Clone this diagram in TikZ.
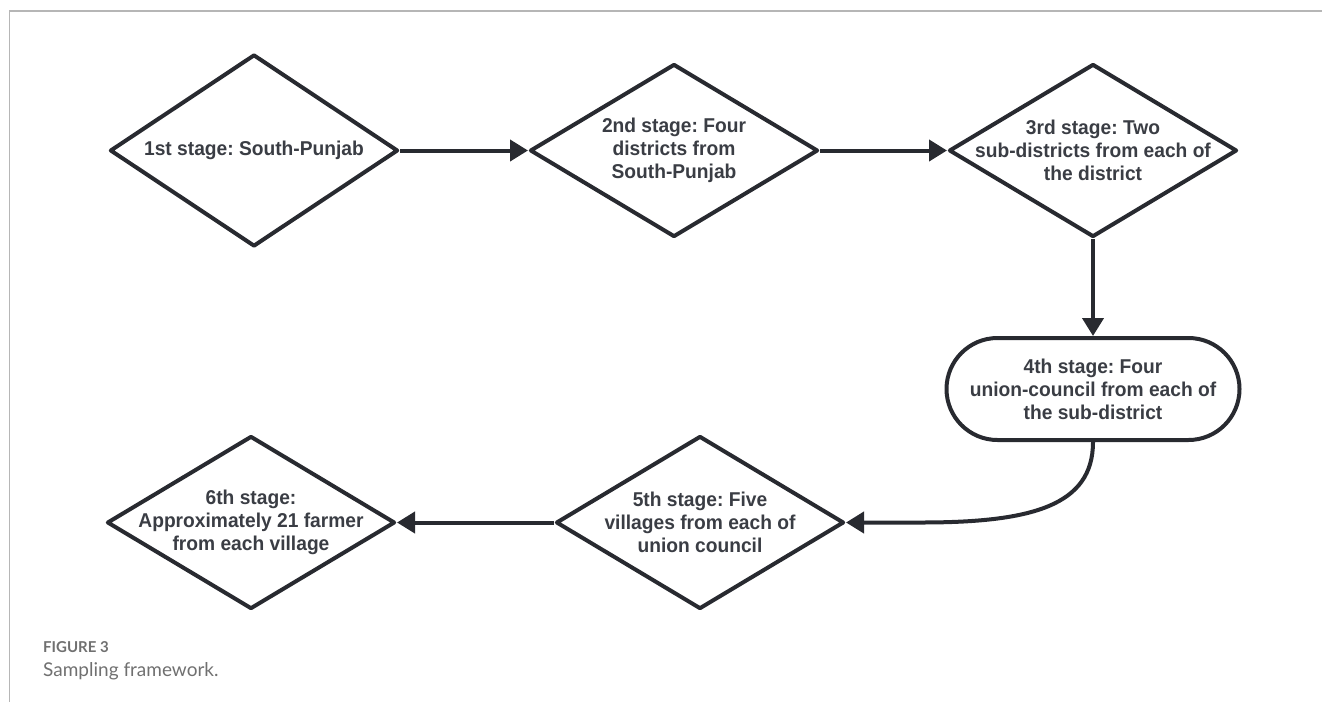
\documentclass[tikz,border=0pt]{standalone}
\usepackage{fontspec}
\setmainfont{Liberation Sans}
\newfontfamily\stagefont[FakeStretch=0.96]{Liberation Sans}
\newfontfamily\capfont{Lato}
\usepackage{tikz}
\usetikzlibrary{arrows.meta}
\usetikzlibrary{positioning}
\usetikzlibrary{shapes.geometric}
\usetikzlibrary{shapes.misc}

\definecolor{ink}{RGB}{40,42,48}
\definecolor{txtgray}{RGB}{58,61,68}
\definecolor{framegray}{RGB}{182,182,182}
\definecolor{capgray}{RGB}{112,112,112}

\frenchspacing
\begin{document}
\begin{tikzpicture}[x=1pt, y=-1pt,
    stage/.style = {diamond, draw=ink, line width=4pt, line join=round, minimum width=288pt, minimum height=173pt, inner sep=0pt},
    pill/.style = {rounded rectangle, draw=ink, line width=4pt, minimum width=293pt, minimum height=102pt, inner sep=0pt},
    stagetext/.style = {align=center, text=txtgray, inner sep=0pt, font=\stagefont\bfseries\fontsize{20}{23}\selectfont},
    flow/.style = {draw=ink, line width=4pt, -{Triangle[length=18pt, width=21pt]}},
    captext/.style = {anchor=base west, inner sep=0pt, text=capgray}]
    \useasboundingbox (0,0) rectangle (1322,702);
    \draw[framegray, line width=1.5pt] (1322,11) -- (9.5,11) -- (9.5,702);

    \node[stage, minimum height=192pt] (d1) at (254,150.5) {};
    \node[stage, right=128pt of d1] (d2) {};
    \node[stage, right=127pt of d2] (d3) {};
    \node[pill, below=97pt of d3] (st4) {};
    \node[stage] (d5) at (700,522.5) {};
    \node[stage, left=157pt of d5] (d6) {};

    \node[stagetext] (t1) at (d1) {1st stage: South-Punjab};
    \node[stagetext] (t2) at (d2) {2nd stage: Four\\districts from\\South-Punjab};
    \node[stagetext] (t3) at (d3) {3rd stage: Two\\sub-districts from each of\\the district};
    \node[stagetext] (t4) at (st4) {4th stage: Four\\union-council from each of\\the sub-district};
    \node[stagetext] (t5) at (d5) {5th stage: Five\\villages from each of\\union council};
    \node[stagetext] (t6) at (d6) {6th stage:\\Approximately 21 farmer\\from each village};

    \coordinate[right=75pt of d5.east] (bend);
    \draw[flow] (d1.east) -- (d2.west);
    \draw[flow] (d2.east) -- (d3.west);
    \draw[flow] (d3.south) -- (st4.north);
    \draw[flow] (st4.south) .. controls +(0,64) and +(110,0) .. (bend) -- (d5.east);
    \draw[flow] (d5.west) -- (d6.east);

    \node[captext, font=\capfont\bfseries\fontsize{15}{18}\selectfont] (fig) at (43,652.3) {FIGURE 3};
    \node[captext, font=\capfont\fontsize{19}{22}\selectfont] (cap) at (43,676) {Sampling framework.};
\end{tikzpicture}
\end{document}
